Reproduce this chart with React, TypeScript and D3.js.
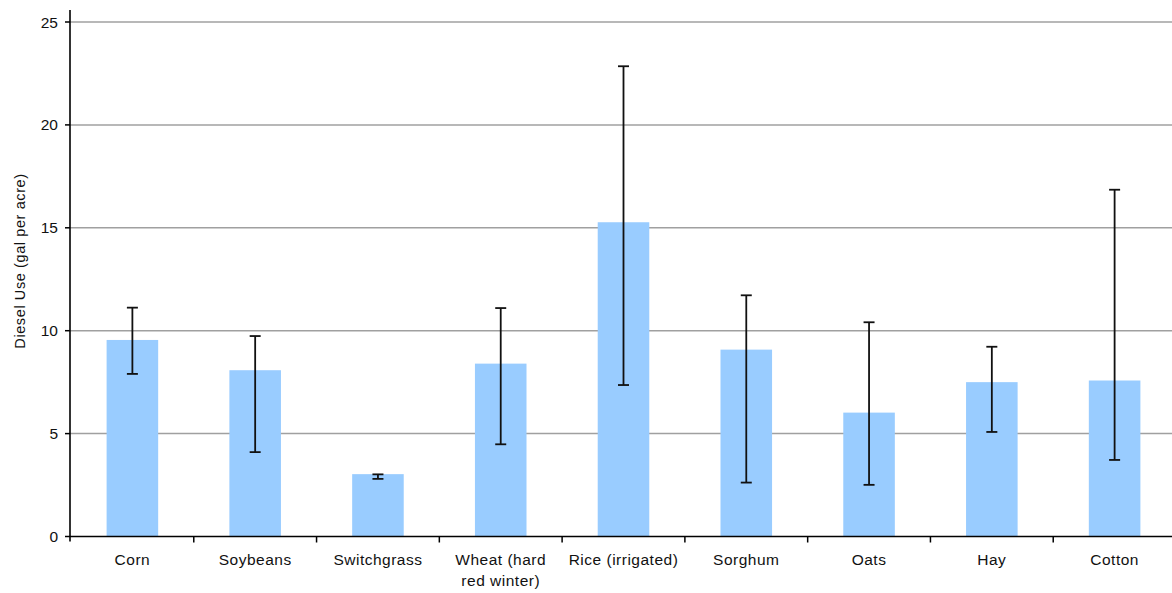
import React from "react";
import * as d3 from "d3";

const categories = ["Corn", "Soybeans", "Switchgrass", "Wheat (hard red winter)", "Rice (irrigated)", "Sorghum", "Oats", "Hay", "Cotton"];
const categoryLines = [["Corn"], ["Soybeans"], ["Switchgrass"], ["Wheat (hard", "red winter)"], ["Rice (irrigated)"], ["Sorghum"], ["Oats"], ["Hay"], ["Cotton"]];
const values = [9.55, 8.08, 3.03, 8.4, 15.27, 9.08, 6.02, 7.5, 7.58];
const errLow = [7.9, 4.1, 2.8, 4.48, 7.36, 2.62, 2.51, 5.08, 3.72];
const errHigh = [11.12, 9.74, 3.02, 11.1, 22.85, 11.72, 10.41, 9.22, 16.85];
const yTicks = [0, 5, 10, 15, 20, 25];

const W = 1172, H = 593;
const left = 70, bandStart = 71, bandEnd = 1176, top = 22, bottom = 536.5;

export default function App() {
  const x = d3.scaleBand<number>().domain(d3.range(categories.length)).range([bandStart, bandEnd]).paddingInner(0).paddingOuter(0);
  const y = d3.scaleLinear().domain([0, 25]).range([bottom, top]);
  const bw = x.bandwidth();
  const barW = bw * 0.42;
  const font = "Liberation Sans, Arial, sans-serif";
  return (
    <svg width={W} height={H} style={{ position: "absolute", left: 0, top: 0 }}>
      <rect width={W} height={H} fill="#fff" />
      {yTicks.filter(t => t > 0).map(t => (
        <line key={t} x1={left} x2={W} y1={y(t)} y2={y(t)} stroke="#a0a0a0" strokeWidth={1.5} />
      ))}
      {values.map((v, i) => (
        <rect key={i} x={x(i)! + bw / 2 - barW / 2} y={y(v)} width={barW} height={y(0) - y(v)} fill="#99ccff" />
      ))}
      {values.map((v, i) => {
        const cx = x(i)! + bw / 2;
        return (
          <g key={i} stroke="#111" strokeWidth={1.8}>
            <line x1={cx} x2={cx} y1={y(errHigh[i])} y2={y(errLow[i])} />
            <line x1={cx - 5.5} x2={cx + 5.5} y1={y(errHigh[i])} y2={y(errHigh[i])} />
            <line x1={cx - 5.5} x2={cx + 5.5} y1={y(errLow[i])} y2={y(errLow[i])} />
          </g>
        );
      })}
      <line x1={left} x2={left} y1={10} y2={bottom + 5} stroke="#000" strokeWidth={1.6} />
      <line x1={left} x2={W} y1={bottom} y2={bottom} stroke="#000" strokeWidth={1.6} />
      {yTicks.map(t => (
        <g key={t}>
          <line x1={left - 5} x2={left} y1={y(t)} y2={y(t)} stroke="#000" strokeWidth={1.5} />
          <text x={left - 12} y={y(t)} dy="0.36em" textAnchor="end" fontFamily={font} fontSize={15.5} fill="#111">{t}</text>
        </g>
      ))}
      {d3.range(1, categories.length).map(i => (
        <line key={i} x1={x(i)!} x2={x(i)!} y1={bottom} y2={bottom + 6} stroke="#000" strokeWidth={1.5} />
      ))}
      {categoryLines.map((lines, i) => (
        <text key={i} x={x(i)! + bw / 2} y={565} textAnchor="middle" fontFamily={font} fontSize={15.5} letterSpacing={0.5} fill="#111">
          {lines.map((l, j) => (
            <tspan key={j} x={x(i)! + bw / 2} dy={j === 0 ? 0 : 21}>{l}</tspan>
          ))}
        </text>
      ))}
      <text transform={`translate(25,${261}) rotate(-90)`} textAnchor="middle" fontFamily={font} fontSize={14.5} letterSpacing={0.6} fill="#111">Diesel Use (gal per acre)</text>
    </svg>
  );
}
